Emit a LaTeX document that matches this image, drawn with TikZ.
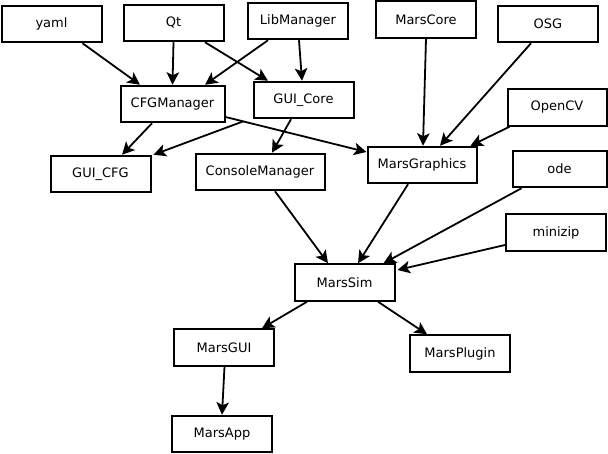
\documentclass[tikz,border=0pt]{standalone}
\usepackage{fontspec}
\setmainfont{DejaVu Sans}
\usetikzlibrary{arrows.meta}
\begin{document}
\begin{tikzpicture}[x=1pt,y=-1pt,
  box/.style={draw,line width=2pt,minimum width=100pt,minimum height=36.5pt,inner sep=0pt,
    font=\fontsize{13pt}{14pt}\selectfont},
  dep/.style={line width=1.8pt,-{Stealth[length=12.5pt,width=12.5pt,inset=3pt]}}]
\useasboundingbox (0,0) rectangle (608,454);
\node[box] (yaml) at (51.5,24) {yaml};
\node[box] (qt) at (173.5,23) {Qt};
\node[box] (lib) at (298,21) {LibManager};
\node[box] (core) at (426,19.5) {MarsCore};
\node[box] (osg) at (548,24) {OSG};
\node[box,minimum width=104pt] (cfg) at (172.5,104) {CFGManager};
\node[box] (guicore) at (303.5,100) {GUI\_Core};
\node[box,minimum width=99pt] (cv) at (557,107.5) {OpenCV};
\node[box] (guicfg) at (100.5,174) {GUI\_CFG};
\node[box,minimum width=129pt] (console) at (260,172) {ConsoleManager};
\node[box,minimum width=109pt] (graphics) at (422,165) {MarsGraphics};
\node[box,minimum width=94pt] (ode) at (559.5,169) {ode};
\node[box] (minizip) at (556,232.5) {minizip};
\node[box] (sim) at (344.5,282.5) {MarsSim};
\node[box] (gui) at (224,347.5) {MarsGUI};
\node[box] (plugin) at (460,353.5) {MarsPlugin};
\node[box] (app) at (222,434) {MarsApp};

\draw[dep] ([xshift=31pt]yaml.south) -- ([xshift=-32.5pt]cfg.north);
\draw[dep] (qt.south) -- (cfg.north);
\draw[dep] ([xshift=31.5pt]qt.south) -- ([xshift=-35.5pt]guicore.north);
\draw[dep] ([xshift=-30pt]lib.south) -- ([xshift=32.5pt]cfg.north);
\draw[dep] ([xshift=1pt]lib.south) -- ([xshift=-1.5pt]guicore.north);
\draw[dep] ([xshift=-20.5pt]cfg.south) -- ([xshift=21.5pt]guicfg.north);
\draw[dep] ([xshift=-9pt,yshift=-2pt]guicore.south west) -- ([xshift=2pt]guicfg.north east);
\draw[dep] ([xshift=-12.5pt]guicore.south) -- ([xshift=12pt]console.north);
\draw[dep] ([yshift=-13pt]cfg.east) -- ([yshift=13pt]graphics.west);
\draw[dep] (core.south) -- ([xshift=1pt]graphics.north);
\draw[dep] ([xshift=-17pt]osg.south) -- ([xshift=18pt]graphics.north);
\draw[dep] ([xshift=3pt]cv.south west) -- ([xshift=-7pt]graphics.north east);
\draw[dep] ([xshift=15pt]console.south) -- ([xshift=-16.5pt]sim.north);
\draw[dep] ([xshift=-14pt]graphics.south) -- ([xshift=13.5pt]sim.north);
\draw[dep] ([xshift=10pt]ode.south west) -- ([xshift=-12pt]sim.north east);
\draw[dep] ([yshift=-12.5pt]minizip.west) -- ([xshift=2pt,yshift=12.5pt]sim.east);
\draw[dep] ([xshift=-37.5pt]sim.south) -- ([xshift=38pt]gui.north);
\draw[dep] ([xshift=33.5pt]sim.south) -- ([xshift=-33pt]plugin.north);
\draw[dep] ([xshift=0.5pt]gui.south) -- (app.north);
\end{tikzpicture}
\end{document}
